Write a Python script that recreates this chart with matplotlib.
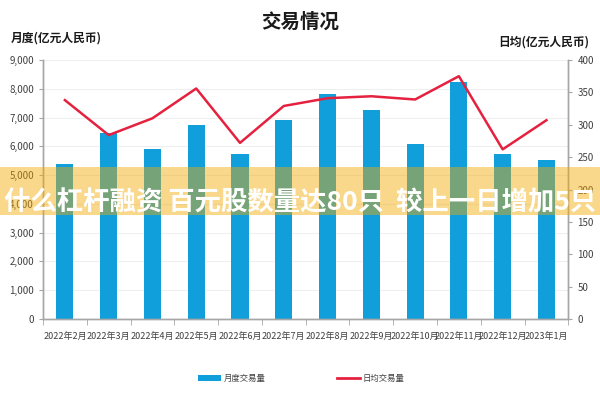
import matplotlib
matplotlib.use('Agg')
import matplotlib.pyplot as plt
from matplotlib.patches import Rectangle, Patch
from matplotlib.lines import Line2D
import numpy as np

plt.rcParams['font.family'] = ['Noto Sans CJK SC', 'DejaVu Sans']

# Data
months = ['2022年2月', '2022年3月', '2022年4月', '2022年5月', '2022年6月', '2022年7月',
          '2022年8月', '2022年9月', '2022年10月', '2022年11月', '2022年12月', '2023年1月']
monthly_volume = [5400, 6460, 5890, 6750, 5720, 6900, 7810, 7250, 6080, 8240, 5750, 5530]
daily_avg = [338, 284, 310, 356, 272, 329, 341, 344, 339, 375, 262, 307]

bar_color = '#119fdc'
line_color = '#e5213f'
axis_gray = '#a6a6a6'
text_gray = '#404040'
narrow = ['Liberation Sans Narrow', 'Noto Sans CJK SC', 'DejaVu Sans']

fig = plt.figure(figsize=(6, 4), dpi=100)
ax = fig.add_axes([0.0717, 0.2025, 0.8755, 0.6475])
ax2 = ax.twinx()

x = np.arange(len(months))
ax.bar(x, monthly_volume, width=0.39, color=bar_color, zorder=2)
ax2.plot(x, daily_avg, color=line_color, linewidth=1.8, zorder=3)

ax.set_xlim(-0.5, len(months) - 0.5)
ax.set_ylim(0, 9000)
ax2.set_ylim(0, 400)
ax.set_yticks(np.arange(0, 9001, 1000))
ax.set_yticklabels([f'{v:,}' for v in range(0, 9001, 1000)])
ax2.set_yticks(np.arange(0, 401, 50))

ax.set_xticks(x)
ax.set_xticklabels(months)
ax.set_xticks(np.arange(-0.5, len(months), 1), minor=True)
ax.tick_params(axis='x', which='major', length=0, labelsize=6.5, colors=text_gray, pad=9)
ax.tick_params(axis='x', which='minor', length=4, color=axis_gray, direction='out')
ax.tick_params(axis='y', length=3, color=axis_gray, labelsize=7, labelcolor=text_gray)
ax2.tick_params(axis='y', length=3, color=axis_gray, labelsize=7, labelcolor=text_gray)
for lab in ax.get_xticklabels() + ax.get_yticklabels() + ax2.get_yticklabels():
    lab.set_family(narrow)

ax.yaxis.grid(True, color='#efefef', linewidth=0.8, zorder=0)
ax.set_axisbelow(True)
for a in (ax, ax2):
    a.spines['top'].set_visible(False)
    for s in ('left', 'right', 'bottom'):
        a.spines[s].set_color(axis_gray)
        a.spines[s].set_linewidth(1)

# Titles
fig.text(0.5, 0.945, '交易情况', ha='center', va='center', fontsize=14, fontweight='bold', color='#1a1a1a')
fig.text(0.018, 0.905, '月度(亿元人民币)', ha='left', va='center', fontsize=8.5, fontweight='bold', color='#1a1a1a')
fig.text(0.982, 0.895, '日均(亿元人民币)', ha='right', va='center', fontsize=8.5, fontweight='bold', color='#1a1a1a')

# Legend
handles = [Patch(facecolor=bar_color, edgecolor='none'),
           Line2D([0], [0], color=line_color, linewidth=2)]
fig.legend(handles, ['月度交易量', '日均交易量'], loc='center', bbox_to_anchor=(0.502, 0.055),
           ncol=2, frameon=False, prop={'family': narrow, 'size': 6}, columnspacing=8.5,
           handlelength=2.8, handleheight=0.7, handletextpad=0.3, labelcolor=text_gray)

# Overlay banner
fig.patches.append(Rectangle((0, 0.4625), 1, 0.12, transform=fig.transFigure,
                             facecolor='#f2a900', alpha=0.45, edgecolor='none', zorder=10))
fig.text(0.5, 0.4925, '什么杠杆融资 百元股数量达80只  较上一日增加5只', ha='center', va='center',
         fontsize=19, fontweight='bold', color='white', zorder=11)

plt.savefig('out.png', dpi=100)
